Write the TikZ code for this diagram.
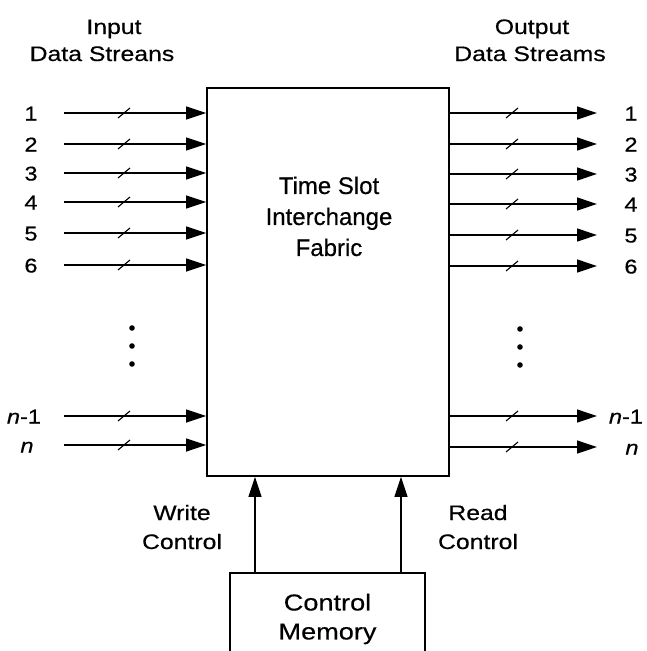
\documentclass[tikz,border=0pt]{standalone}
\usepackage{fontspec}
\setmainfont[FakeBold=0.4]{Liberation Sans}
\newfontfamily\widefont[FakeStretch=1.18,FakeBold=0.4]{Liberation Sans}
\usetikzlibrary{arrows.meta}
\begin{document}
\begin{tikzpicture}[x=1pt,y=-1pt,
  sig/.style={line width=1.3pt,-{Triangle[length=20pt,width=13pt]}},
  slashline/.style={line width=1.1pt},
  lbl/.style={anchor=base,inner sep=0pt,font=\widefont\fontsize{20}{24}\selectfont},
  title/.style={anchor=base,inner sep=0pt,font=\widefont\fontsize{21}{24}\selectfont},
  boxtext/.style={inner sep=0pt,align=center,font=\fontsize{24}{31}\selectfont},
  ctltext/.style={inner sep=0pt,align=center,font=\widefont\fontsize{21}{29}\selectfont},
  dotmark/.style={fill=black}]
\useasboundingbox (0,0) rectangle (647,651);
\clip (0,0) rectangle (647,651);
\fill[white] (0,0) rectangle (647,651);
% main fabric box
\node[draw,line width=1.6pt,minimum width=242pt,minimum height=388pt,inner sep=0pt] (fab) at (328,282) {};
\node[boxtext] (fabtxt) at (329,216.4) {Time Slot\\Interchange\\Fabric};
% titles
\node[title] (tin1) at (114,34) {Input};
\node[title] (tin2) at (102,61) {Data Streans};
\node[title] (tout1) at (532,34) {Output};
\node[title] (tout2) at (530,61) {Data Streams};
% inputs
\foreach \n/\y in {1/113,2/144,3/173,4/202,5/233,6/265}{
  \coordinate (in\n) at (64,\y);
  \draw[sig] (in\n) -- (in\n -| fab.west);
  \draw[slashline] (118,\y+5) -- (130,\y-5);
  \node[lbl] (lin\n) at (31,\y+7.5) {\n};
}
\coordinate (inA) at (64,416);
\draw[sig] (inA) -- (inA -| fab.west);
\draw[slashline] (118,421) -- (130,411);
\node[lbl] (linA) at (24,423.5) {\textit{n}-1};
\coordinate (inB) at (64,445);
\draw[sig] (inB) -- (inB -| fab.west);
\draw[slashline] (118,450) -- (130,440);
\node[lbl] (linB) at (27,452.5) {\textit{n}};
% outputs
\foreach \n/\y in {1/113,2/144,3/174,4/204,5/235,6/266}{
  \coordinate (out\n) at (597,\y);
  \draw[sig] (out\n -| fab.east) -- (out\n);
  \draw[slashline] (506,\y+5) -- (518,\y-5);
  \node[lbl] (lout\n) at (631,\y+7.5) {\n};
}
\coordinate (outA) at (597,416);
\draw[sig] (outA -| fab.east) -- (outA);
\draw[slashline] (506,421) -- (518,411);
\node[lbl] (loutA) at (626,423.5) {\textit{n}-1};
\coordinate (outB) at (597,447);
\draw[sig] (outB -| fab.east) -- (outB);
\draw[slashline] (506,452) -- (518,442);
\node[lbl] (loutB) at (632,454.5) {\textit{n}};
% dots
\foreach \y in {328,346,364}{
  \fill[dotmark] (132,\y) circle (2.8);
  \fill[dotmark] (520,\y+1) circle (2.8);
}
% control memory
\node[draw,line width=1.4pt,minimum width=195pt,minimum height=92pt,inner sep=0pt,
  align=center,font=\widefont\fontsize{23}{29}\selectfont] (ctrl) at (327.5,619) {Control\\Memory};
\coordinate (wx) at (255,0);
\coordinate (rx) at (401,0);
\draw[sig] (ctrl.north -| wx) -- (fab.south -| wx);
\draw[sig] (ctrl.north -| rx) -- (fab.south -| rx);
\node[ctltext] (wlbl) at (182,527) {Write\\Control};
\node[ctltext] (rlbl) at (478,527) {Read\\Control};
\end{tikzpicture}
\end{document}
